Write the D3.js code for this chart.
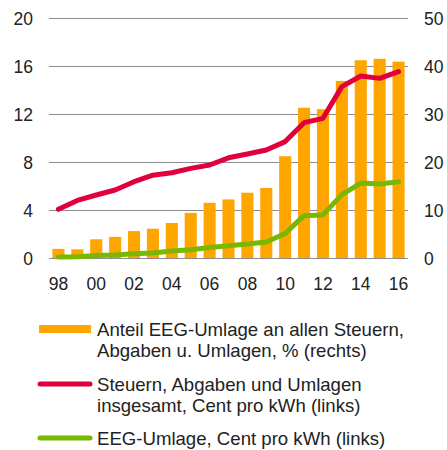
<!DOCTYPE html>
<html>
<head>
<meta charset="utf-8">
<script src="https://cdn.jsdelivr.net/npm/d3@7"></script>
<style>
  body { margin: 0; background: #fff; }
  svg { font-family: "Liberation Sans", Arial, sans-serif; }
</style>
</head>
<body>
<svg id="chart" width="447" height="450"></svg>
<script>
// years 1998..2016
const years = ["98","99","00","01","02","03","04","05","06","07","08","09","10","11","12","13","14","15","16"];
// Anteil EEG-Umlage an allen Steuern, Abgaben u. Umlagen, % (right axis)
const eegShare = [1.9, 1.8, 3.9, 4.4, 5.6, 6.1, 7.3, 9.4, 11.5, 12.2, 13.6, 14.6, 21.2, 31.3, 31.0, 36.9, 41.2, 41.5, 40.9];
// Steuern, Abgaben und Umlagen insgesamt, Cent pro kWh (left axis)
const taxesTotal = [4.06, 4.8, 5.25, 5.67, 6.36, 6.9, 7.1, 7.47, 7.75, 8.35, 8.67, 9.0, 9.7, 11.28, 11.64, 14.28, 15.17, 14.97, 15.53];
// EEG-Umlage, Cent pro kWh (left axis)
const eegLevy = [0.08, 0.1, 0.2, 0.25, 0.35, 0.42, 0.58, 0.69, 0.88, 1.02, 1.16, 1.33, 2.05, 3.53, 3.59, 5.28, 6.24, 6.17, 6.35];

const leftTicks = [0, 4, 8, 12, 16, 20];
const rightTicks = [0, 10, 20, 30, 40, 50];
const xLabels = ["98","00","02","04","06","08","10","12","14","16"];

const legendItems = [
  { type: "bar", color: "#FFA500", lines: ["Anteil EEG-Umlage an allen Steuern,", "Abgaben u. Umlagen, % (rechts)"] },
  { type: "line", color: "#E2003C", lines: ["Steuern, Abgaben und Umlagen", "insgesamt, Cent pro kWh (links)"] },
  { type: "line", color: "#78B800", lines: ["EEG-Umlage, Cent pro kWh (links)"] }
];

const svg = d3.select("#chart");
const plotLeft = 49, plotRight = 408, plotTop = 18, plotBottom = 258;

const x = d3.scaleBand().domain(years).range([plotLeft, plotRight]).paddingInner(0.36).paddingOuter(0.18);
const yL = d3.scaleLinear().domain([0, 20]).range([plotBottom, plotTop]);
const yR = d3.scaleLinear().domain([0, 50]).range([plotBottom, plotTop]);

// gridlines
svg.append("g")
  .selectAll("line")
  .data(leftTicks)
  .enter()
  .append("line")
    .attr("x1", plotLeft).attr("x2", plotRight)
    .attr("y1", d => yL(d) + 0.5).attr("y2", d => yL(d) + 0.5)
    .style("stroke", "#8c8c8c")
    .style("stroke-width", 1);

// left axis labels
svg.append("g")
  .selectAll("text")
  .data(leftTicks)
  .enter()
  .append("text")
    .attr("x", 33)
    .attr("y", d => yL(d) + 6.5)
    .attr("text-anchor", "end")
    .style("font-size", "17.5px")
    .style("fill", "#222")
    .text(d => d);

// right axis labels
svg.append("g")
  .selectAll("text")
  .data(rightTicks)
  .enter()
  .append("text")
    .attr("x", 424)
    .attr("y", d => yR(d) + 6.5)
    .attr("text-anchor", "start")
    .style("font-size", "17.5px")
    .style("fill", "#222")
    .text(d => d);

// bars
svg.append("g")
  .selectAll("rect")
  .data(eegShare)
  .enter()
  .append("rect")
    .attr("x", (d, i) => x(years[i]))
    .attr("width", x.bandwidth())
    .attr("y", d => yR(d))
    .attr("height", d => plotBottom - yR(d))
    .style("fill", "#FFA500");

// baseline
svg.append("line")
  .attr("x1", plotLeft).attr("x2", plotRight)
  .attr("y1", plotBottom + 0.5).attr("y2", plotBottom + 0.5)
  .style("stroke", "#8c8c8c");

// x labels
svg.append("g")
  .selectAll("text")
  .data(xLabels)
  .enter()
  .append("text")
    .attr("x", d => x(d) + x.bandwidth() / 2)
    .attr("y", 289.5)
    .attr("text-anchor", "middle")
    .style("font-size", "17.5px")
    .style("fill", "#222")
    .text(d => d);

// lines
const line = d3.line()
  .x((d, i) => x(years[i]) + x.bandwidth() / 2)
  .y(d => yL(d));

svg.append("path")
  .datum(taxesTotal)
  .attr("d", line)
  .style("fill", "none")
  .style("stroke", "#E2003C")
  .style("stroke-width", 5)
  .style("stroke-linecap", "round")
  .style("stroke-linejoin", "round");

svg.append("path")
  .datum(eegLevy)
  .attr("d", line)
  .style("fill", "none")
  .style("stroke", "#78B800")
  .style("stroke-width", 5)
  .style("stroke-linecap", "round")
  .style("stroke-linejoin", "round");

// legend
const legendY = [329, 384, 438];
const legend = svg.append("g");
legendItems.forEach((item, i) => {
  const g = legend.append("g").attr("transform", `translate(0, ${legendY[i]})`);
  if (item.type === "bar") {
    g.append("rect").attr("x", 39).attr("y", -4).attr("width", 52).attr("height", 8).style("fill", item.color);
  } else {
    g.append("line").attr("x1", 40).attr("x2", 90).attr("y1", 0).attr("y2", 0)
      .style("stroke", item.color).style("stroke-width", 5).style("stroke-linecap", "round");
  }
  item.lines.forEach((t, j) => {
    g.append("text")
      .attr("x", 97)
      .attr("y", 7 + j * 21)
      .style("font-size", "18.6px")
      .style("fill", "#222")
      .text(t);
  });
});
</script>
</body>
</html>
